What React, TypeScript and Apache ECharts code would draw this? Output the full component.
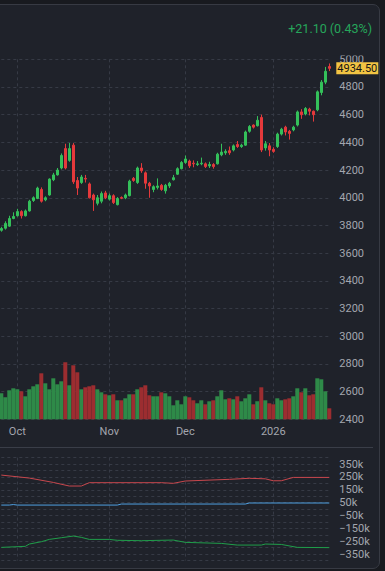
import React, { useEffect, useRef } from 'react';
import * as echarts from 'echarts';

// ---------- categories (trading days) ----------
const START = '2025-09-25';
const END = '2026-01-23';
const HOLIDAYS = ['2025-11-27', '2025-12-25', '2026-01-01', '2026-01-19'];
const MONTHS = ['Jan', 'Feb', 'Mar', 'Apr', 'May', 'Jun', 'Jul', 'Aug', 'Sep', 'Oct', 'Nov', 'Dec'];

function tradingDays(start: string, end: string, holidays: string[]): string[] {
  const out: string[] = [];
  const d = new Date(start + 'T00:00:00Z');
  const e = new Date(end + 'T00:00:00Z');
  while (d <= e) {
    const wd = d.getUTCDay();
    const s = d.toISOString().slice(0, 10);
    if (wd !== 0 && wd !== 6 && !holidays.includes(s)) out.push(s);
    d.setUTCDate(d.getUTCDate() + 1);
  }
  return out;
}
const dates = tradingDays(START, END, HOLIDAYS);

// ---------- price series ----------
const opens = [
  3765, 3780, 3795, 3850, 3870, 3900, 3870, 3905, 3980, 3995,
  4060, 3985, 4020, 4130, 4165, 4215, 4355, 4270, 4380, 4125,
  4110, 4140, 4100, 4020, 3960, 3975, 4035, 3990, 4015, 3950,
  4002, 4000, 4015, 4140, 4110, 4215, 4180, 4105, 4060, 4075,
  4090, 4050, 4085, 4130, 4170, 4210, 4255, 4265, 4250, 4240,
  4245, 4245, 4230, 4240, 4245, 4310, 4325, 4340, 4345, 4385,
  4370, 4380, 4480, 4525, 4520, 4580, 4360, 4375, 4350, 4370,
  4460, 4510, 4480, 4490, 4525, 4620, 4605, 4640, 4625, 4635,
  4760, 4835, 4948,
];
const closes = [
  3778, 3815, 3850, 3865, 3900, 3870, 3905, 3975, 4000, 4070,
  3975, 4000, 4135, 4165, 4200, 4305, 4215, 4355, 4115, 4070,
  4150, 4135, 4000, 3985, 4000, 4030, 4000, 4015, 3965, 3995,
  3996, 4020, 4120, 4125, 4215, 4195, 4105, 4085, 4080, 4085,
  4060, 4090, 4105, 4145, 4210, 4255, 4280, 4230, 4245, 4245,
  4250, 4225, 4240, 4225, 4315, 4330, 4335, 4325, 4375, 4370,
  4380, 4475, 4515, 4510, 4560, 4345, 4390, 4345, 4335, 4460,
  4495, 4475, 4465, 4510, 4620, 4600, 4645, 4625, 4600, 4765,
  4835, 4913.4, 4934.5,
];
const lows = [
  3755, 3770, 3790, 3845, 3865, 3850, 3865, 3900, 3970, 3990,
  3965, 3975, 4015, 4120, 4160, 4205, 4205, 4260, 4100, 4020,
  4100, 4110, 3995, 3905, 3945, 3960, 3990, 3980, 3955, 3945,
  3990, 3990, 4010, 4115, 4100, 4180, 4065, 4000, 4040, 4060,
  4050, 4030, 4070, 4125, 4165, 4205, 4245, 4215, 4220, 4230,
  4235, 4215, 4215, 4210, 4240, 4300, 4310, 4310, 4335, 4360,
  4360, 4375, 4470, 4500, 4515, 4330, 4340, 4300, 4325, 4360,
  4450, 4450, 4420, 4480, 4515, 4570, 4595, 4595, 4550, 4625,
  4740, 4820, 4915,
];
const highs = [
  3790, 3830, 3870, 3895, 3920, 3910, 3915, 3985, 4010, 4080,
  4075, 4010, 4140, 4180, 4215, 4320, 4390, 4395, 4395, 4150,
  4165, 4165, 4110, 4030, 4020, 4045, 4050, 4030, 4025, 4005,
  4010, 4030, 4130, 4150, 4225, 4250, 4190, 4115, 4090, 4140,
  4100, 4100, 4115, 4165, 4220, 4265, 4305, 4275, 4270, 4265,
  4290, 4255, 4260, 4250, 4325, 4390, 4350, 4370, 4385, 4410,
  4390, 4485, 4525, 4530, 4590, 4600, 4410, 4395, 4365, 4470,
  4505, 4520, 4490, 4520, 4630, 4640, 4655, 4650, 4630, 4775,
  4850, 4945, 4970,
];
// volume, thousand contracts
const volumes = [
  208, 176, 232, 248, 240, 224, 184, 240, 264, 280,
  368, 288, 240, 328, 280, 304, 456, 272, 432, 376,
  240, 256, 264, 272, 240, 216, 200, 192, 200, 152,
  152, 168, 200, 200, 240, 256, 272, 192, 184, 184,
  216, 208, 184, 112, 152, 120, 184, 176, 152, 128,
  152, 120, 144, 152, 184, 232, 160, 168, 160, 184,
  144, 168, 200, 120, 144, 256, 152, 128, 120, 168,
  152, 160, 168, 184, 248, 216, 248, 192, 200, 328,
  320, 224, 88,
];

// ---------- indicator (thousands), [day index, value] ----------
const redLine = [
  [0, 264], [7, 241], [13, 207], [17, 179], [20, 179], [22, 205], [40, 205], [43, 200],
  [46, 218], [57, 231], [62, 239], [66, 235], [68, 220], [70, 220], [73, 246], [82, 246],
];
const blueLine = [
  [0, 31], [2, 31], [3, 35], [4, 31], [29, 31], [30, 39], [61, 39], [62, 47], [82, 47],
];
const greenLine = [
  [0, -298], [6, -290], [7, -272], [10, -254], [12, -236], [15, -223], [18, -210], [20, -220],
  [22, -236], [27, -236], [29, -243], [35, -246], [43, -241], [46, -259], [55, -267],
  [59, -280], [65, -280], [66, -272], [70, -275], [74, -298], [82, -300],
];

// ---------- styles ----------
const OUTER = '#181a1f';
const PANEL = '#1f222a';
const BORDER = '#373a43';
const GRID = '#363a45';
const LABEL = '#a3a6ae';
const UP = '#34c05a';
const DOWN = '#e5393b';
const VOL_UP = '#2e8a48';
const VOL_DOWN = '#9c2d30';
const FONT = 'Roboto, sans-serif';

const isMonthStart = (i: number) => i > 0 && dates[i].slice(5, 7) !== dates[i - 1].slice(5, 7);
const monthLabel = (v: string) => {
  const m = +v.slice(5, 7);
  return m === 1 ? v.slice(0, 4) : MONTHS[m - 1];
};

export default function App() {
  const ref = useRef<HTMLDivElement>(null);
  useEffect(() => {
    document.body.style.margin = '0';
    const chart = echarts.init(ref.current!, null, { renderer: 'svg' });
    const n = closes.length;
    const last = closes[n - 1];
    const prev = closes[n - 2];
    const chg = last - prev;
    const pct = (chg / prev) * 100;
    const header = `${chg >= 0 ? '+' : ''}${chg.toFixed(2)} (${pct.toFixed(2)}%)`;

    const dashed = { show: true, lineStyle: { color: GRID, type: [3, 3] as any, width: 1 } };
    const monthInterval = (idx: number) => isMonthStart(idx);

    chart.setOption({
      animation: false,
      backgroundColor: 'transparent',
      textStyle: { fontFamily: FONT },
      grid: [
        { left: 1.3, top: 59.3, width: 328, height: 360 },
        { left: 1.3, top: 457.6, width: 328, height: 102.9 },
      ],
      xAxis: [
        {
          type: 'category', gridIndex: 0, data: dates, boundaryGap: false,
          axisLine: { show: false }, axisTick: { show: false },
          axisLabel: {
            interval: monthInterval, formatter: (v: string) => monthLabel(v),
            color: LABEL, fontSize: 11, margin: 7, fontFamily: FONT,
          },
          splitLine: { ...dashed, interval: monthInterval },
        },
        {
          type: 'category', gridIndex: 1, data: dates, boundaryGap: false,
          axisLine: { show: false }, axisTick: { show: false }, axisLabel: { show: false },
          splitLine: { ...dashed, interval: monthInterval },
        },
      ],
      yAxis: [
        {
          type: 'value', gridIndex: 0, position: 'right', min: 2400, max: 5000, interval: 200,
          axisLine: { show: false }, axisTick: { show: false },
          axisLabel: {
            color: LABEL, fontSize: 11, margin: 10, fontFamily: FONT,
            formatter: (v: number) => String(v),
          },
          splitLine: dashed,
        },
        {
          type: 'value', gridIndex: 0, min: 0, max: 2880, show: false,
          splitLine: { show: false },
        },
        {
          type: 'value', gridIndex: 1, position: 'right', min: -400, max: 400, interval: 50,
          axisLine: { show: false }, axisTick: { show: false },
          axisLabel: {
            color: LABEL, fontSize: 11, margin: 10, fontFamily: FONT,
            formatter: (v: number) => (v % 100 === 0 ? '' : v < 0 ? `\u2212${-v}k` : `${v}k`),
          },
          splitLine: dashed,
        },
      ],
      series: [
        {
          type: 'bar', xAxisIndex: 0, yAxisIndex: 1, barWidth: 4, z: 1,
          data: volumes.map((v, i) => ({
            value: v,
            itemStyle: { color: closes[i] >= opens[i] ? VOL_UP : VOL_DOWN },
          })),
        },
        {
          type: 'candlestick', xAxisIndex: 0, yAxisIndex: 0, barWidth: 3, z: 3,
          data: opens.map((o, i) => [o, closes[i], lows[i], highs[i]]),
          itemStyle: { color: UP, color0: DOWN, borderColor: UP, borderColor0: DOWN, borderWidth: 1 },
          markLine: {
            silent: true, symbol: ['none', 'none'],
            lineStyle: { color: 'rgba(0,0,0,0)', width: 0 },
            data: [{ yAxis: last }],
            label: {
              show: true, position: 'end', distance: 7,
              formatter: () => last.toFixed(2),
              color: '#141414', backgroundColor: '#f2c443', padding: [1, 1, 0, 1],
              fontSize: 11, fontFamily: FONT,
            },
          },
        },
        {
          type: 'line', xAxisIndex: 1, yAxisIndex: 2, data: redLine, symbol: 'none',
          lineStyle: { color: '#c8474d', width: 1 },
        },
        {
          type: 'line', xAxisIndex: 1, yAxisIndex: 2, data: blueLine, symbol: 'none',
          lineStyle: { color: '#4f9fe0', width: 1 },
        },
        {
          type: 'line', xAxisIndex: 1, yAxisIndex: 2, data: greenLine, symbol: 'none',
          lineStyle: { color: '#1f9e4a', width: 1 },
        },
      ],
      graphic: [
        {
          type: 'rect', z: 100, shape: { x: 332, y: 40, width: 46, height: 15.5 },
          style: { fill: PANEL },
        },
        {
          type: 'text', z: 101, x: 372, y: 28,
          style: {
            text: header, fill: '#26a65b', fontSize: 12.5, fontFamily: FONT,
            align: 'right', verticalAlign: 'middle', textAlign: 'right', textVerticalAlign: 'middle',
          },
        },
        {
          type: 'line', z: 100, shape: { x1: 0, y1: 447.5, x2: 373, y2: 447.5 },
          style: { stroke: '#3a3e48', lineWidth: 1 },
        },
      ],
    });
    return () => chart.dispose();
  }, []);

  return (
    <div style={{ position: 'relative', width: 385, height: 571, background: OUTER, overflow: 'hidden' }}>
      <div
        style={{
          position: 'absolute', left: -10, top: 4, width: 390, height: 565, boxSizing: 'border-box',
          border: `1px solid ${BORDER}`, borderRadius: 7, background: PANEL,
        }}
      />
      <div ref={ref} style={{ position: 'absolute', left: 0, top: 0, width: 385, height: 571 }} />
    </div>
  );
}
